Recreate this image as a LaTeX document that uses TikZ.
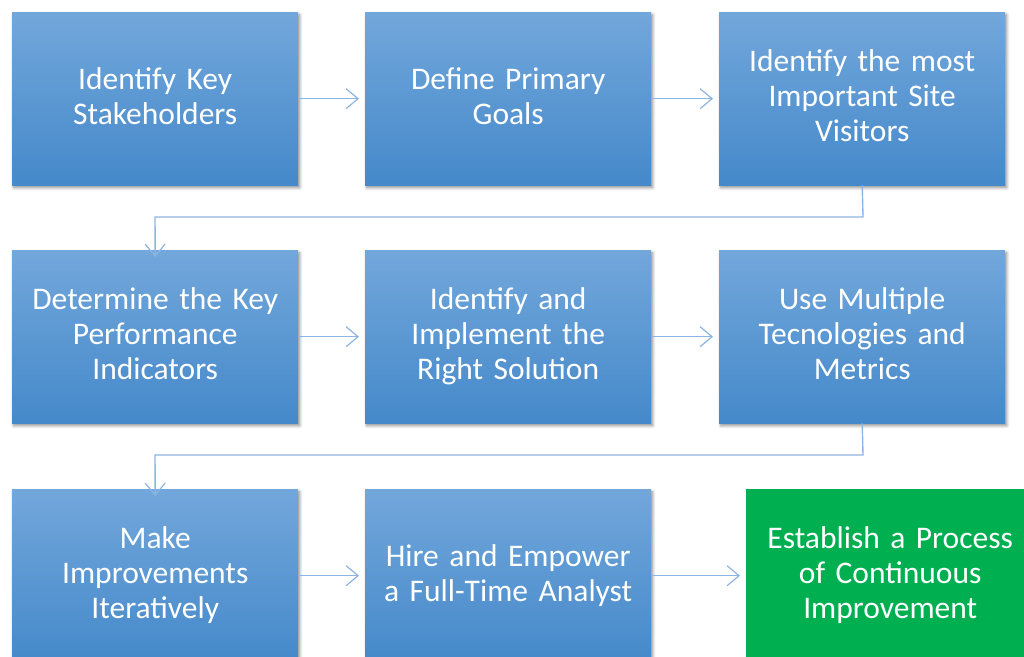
\documentclass[tikz,border=0pt]{standalone}
\usepackage{fontspec}
\setmainfont[WordSpace=0.8]{Carlito}
\usetikzlibrary{arrows.meta,shadows.blur}
\definecolor{boxtop}{HTML}{72A7DB}
\definecolor{boxbot}{HTML}{4589CA}
\definecolor{arrowc}{HTML}{8DB4E2}
\definecolor{greenbox}{HTML}{00AF50}
\tikzset{
  box/.style={anchor=north west, minimum width=286pt, minimum height=173pt,
    inner sep=0pt, top color=boxtop, bottom color=boxbot, draw=none,
    text=white, align=center, text width=280pt,
    font=\fontsize{31.5}{35}\selectfont,
    blur shadow={shadow xshift=1.5pt, shadow yshift=-2.5pt, shadow blur steps=6, shadow blur radius=3pt, shadow opacity=45}},
  gbox/.style={anchor=north west, minimum width=288pt, minimum height=173pt,
    inner sep=0pt, fill=greenbox, draw=none, text=white, align=center, text width=280pt,
    font=\fontsize{31.5}{35}\selectfont},
  conn/.style={draw=arrowc, line width=1.4pt, -{Straight Barb[length=12pt,width=20pt,line width=1.2pt]}}
}
\begin{document}
\begin{tikzpicture}[x=1pt,y=-1pt]
\useasboundingbox (0,0) rectangle (1024,656);
\clip (0,0) rectangle (1024,656);
\node[box] (a1) at (12,12) {Identify Key\\Stakeholders\vphantom{g}};
\node[box] (a2) at (365,12) {Define Primary\\Goals\vphantom{g}};
\node[box] (a3) at (719,12) {Identify the most\\Important Site\\Visitors\vphantom{g}};
\node[box] (b1) at (12,250) {Determine the Key\\Performance\\Indicators\vphantom{g}};
\node[box] (b2) at (365,250) {Identify and\\Implement the\\Right Solution\vphantom{g}};
\node[box] (b3) at (719,250) {Use Multiple\\Tecnologies and\\Metrics\vphantom{g}};
\node[box] (c1) at (12,489) {Make\\Improvements\\Iteratively\vphantom{g}};
\node[box] (c2) at (365,489) {Hire and Empower\\a Full-Time Analyst\vphantom{g}};
\node[gbox] (c3) at (746,489) {Establish a Process\\of Continuous\\Improvement\vphantom{g}};
\coordinate (k1) at (863,217);
\coordinate (k2) at (155,217);
\coordinate (k3) at (863,455);
\coordinate (k4) at (155,455);
\draw[conn] (a1.east) -- ([xshift=-6pt]a2.west);
\draw[conn] (a2.east) -- ([xshift=-6pt]a3.west);
\draw[conn] (b1.east) -- ([xshift=-6pt]b2.west);
\draw[conn] (b2.east) -- ([xshift=-6pt]b3.west);
\draw[conn] (c1.east) -- ([xshift=-6pt]c2.west);
\draw[conn] (c2.east) -- ([xshift=-6pt]c3.west);
\draw[conn] (a3.south) -- (k1) -- (k2) -- ([yshift=-7pt]b1.north);
\draw[conn] (b3.south) -- (k3) -- (k4) -- ([yshift=-7pt]c1.north);
\end{tikzpicture}
\end{document}
